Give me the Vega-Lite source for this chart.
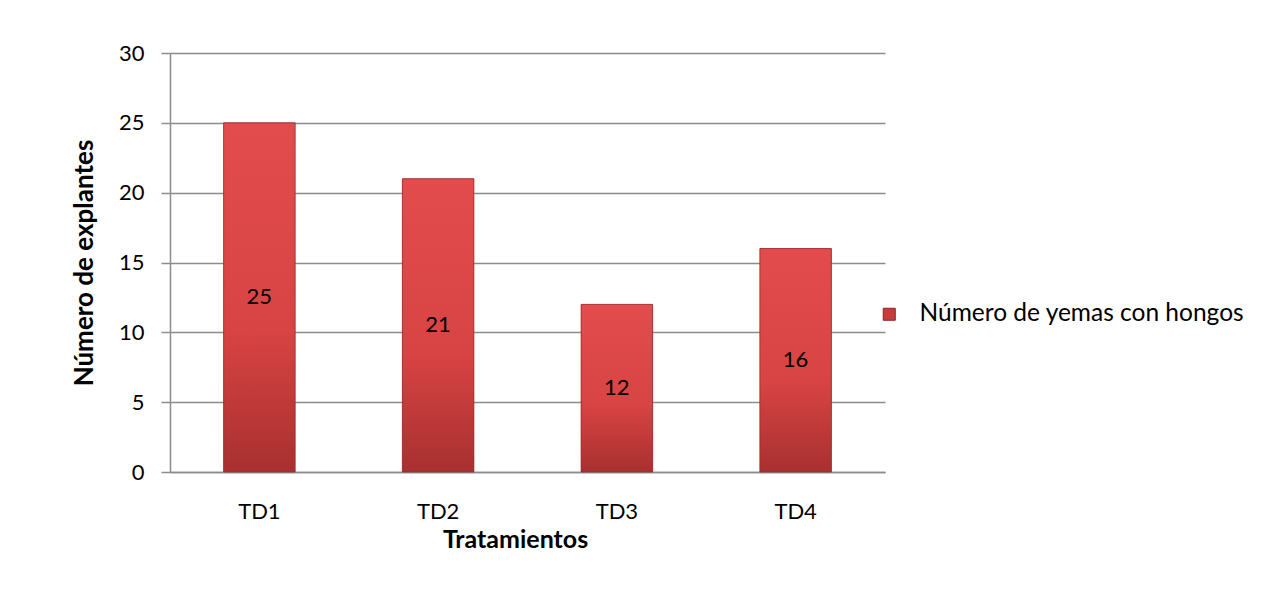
{
  "$schema": "https://vega.github.io/schema/vega-lite/v6.json",
  "width": 715,
  "height": 419,
  "autosize": {"type": "none"},
  "padding": {"left": 170, "top": 53, "right": 395, "bottom": 119},
  "background": "white",
  "config": {"view": {"stroke": null}},
  "data": {
    "values": [
      {"tratamiento": "TD1", "valor": 25, "serie": "Número de yemas con hongos"},
      {"tratamiento": "TD2", "valor": 21, "serie": "Número de yemas con hongos"},
      {"tratamiento": "TD3", "valor": 12, "serie": "Número de yemas con hongos"},
      {"tratamiento": "TD4", "valor": 16, "serie": "Número de yemas con hongos"}
    ]
  },
  "encoding": {
    "x": {
      "field": "tratamiento",
      "type": "nominal",
      "sort": null,
      "scale": {"paddingInner": 0, "paddingOuter": 0},
      "axis": {
        "title": "Tratamientos",
        "labelAngle": 0,
        "ticks": false,
        "tickSize": 0,
        "labelPadding": 46,
        "labelBaseline": "alphabetic",
        "domainColor": "#8c8c8c",
        "domainWidth": 1.5,
        "labelFont": "Lato",
        "labelFontSize": 22,
        "labelColor": "#000000",
        "titleFont": "Lato",
        "titleFontSize": 25,
        "titleFontWeight": "bold",
        "titleColor": "#000000",
        "titleX": 345,
        "titleY": 75,
        "titleBaseline": "alphabetic",
        "titleAlign": "center"
      }
    }
  },
  "layer": [
    {
      "mark": {"type": "bar", "width": {"band": 0.4}},
      "encoding": {
        "y": {
          "field": "valor",
          "type": "quantitative",
          "title": "Número de explantes",
          "scale": {"domain": [0, 30], "nice": false},
          "axis": {
            "title": "Número de explantes",
            "values": [0, 5, 10, 15, 20, 25, 30],
            "grid": true,
            "gridColor": "#8c8c8c",
            "gridWidth": 1.5,
            "domainColor": "#8c8c8c",
            "domainWidth": 1.5,
            "tickColor": "#8c8c8c",
            "tickSize": 9,
            "tickWidth": 1.5,
            "labelFont": "Lato",
            "labelFontSize": 22,
            "labelColor": "#000000",
            "labelPadding": 17,
            "titleFont": "Lato",
            "titleFontSize": 26,
            "titleFontWeight": "bold",
            "titleColor": "#000000",
            "titleX": -86,
            "titleY": 209.5,
            "titleAngle": -90,
            "titleAlign": "center",
            "titleBaseline": "middle"
          }
        },
        "color": {
          "field": "serie",
          "type": "nominal",
          "scale": {"range": ["#c83c3c"]},
          "legend": {
            "orient": "none",
            "legendX": 707,
            "legendY": 249,
            "title": null,
            "symbolType": "square",
            "symbolSize": 144,
            "symbolStrokeColor": "#8b2020",
            "symbolStrokeWidth": 1,
            "labelFont": "Lato",
            "labelFontSize": 24.5,
            "labelColor": "#000000",
            "labelOffset": 18,
            "labelLimit": 500
          }
        }
      }
    },
    {
      "mark": {
        "type": "bar",
        "width": {"band": 0.4},
        "fill": {
          "gradient": "linear",
          "x1": 0, "y1": 0, "x2": 0, "y2": 1,
          "stops": [
            {"offset": 0, "color": "#e24c4c"},
            {"offset": 0.6, "color": "#d84343"},
            {"offset": 1, "color": "#a83030"}
          ]
        },
        "stroke": "#9a2a2a",
        "strokeWidth": 0.8
      },
      "encoding": {
        "y": {"field": "valor", "type": "quantitative", "title": "Número de explantes"}
      }
    },
    {
      "transform": [{"calculate": "datum.valor / 2", "as": "medio"}],
      "mark": {"type": "text", "font": "Lato", "fontSize": 22, "color": "#000000", "baseline": "middle"},
      "encoding": {
        "y": {"field": "medio", "type": "quantitative", "title": "Número de explantes"},
        "text": {"field": "valor", "type": "quantitative"}
      }
    }
  ]
}
